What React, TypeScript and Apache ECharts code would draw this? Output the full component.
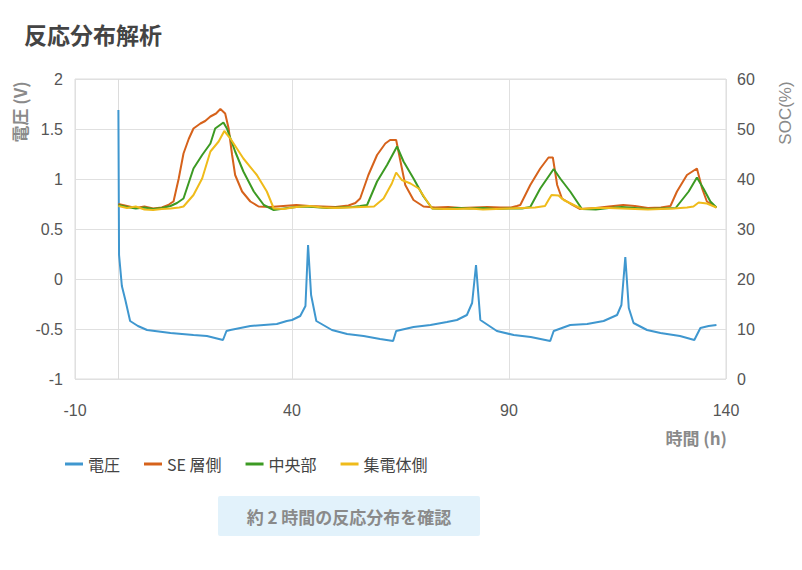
import React, { useEffect, useRef } from "react";
import * as echarts from "echarts";

const FONT = "'Liberation Sans', Arial, 'Noto Sans CJK JP', sans-serif";
const JFONT = "'Noto Sans CJK JP', 'Liberation Sans', sans-serif";

const seriesNames = ["電圧", "SE 層側", "中央部", "集電体側"];
const seriesColors = ["#3f97cf", "#d6621b", "#3c9a23", "#efbb1a"];

const xTicks = [-10, 40, 90, 140];

const voltT = [0, 0.15, 0.8, 1.6, 2.7, 4.5, 6.6, 12, 17.3, 20.4, 24.1, 24.9, 25.8, 30.4, 36.5, 38.8, 40, 41.9, 43.1, 43.7, 44.4, 45.6, 49.2, 52.7, 56.5, 60.3, 63.3, 64, 68, 71.9, 75.7, 78, 80.3, 81.5, 82.4, 83.4, 87.2, 91.1, 95, 99.5, 100.3, 104.1, 108, 111.8, 114.9, 115.9, 116.8, 117.6, 118.7, 121.8, 124.9, 129.4, 132.7, 134.1, 136, 137.8];
const voltV = [1.69, 0.24, -0.07, -0.21, -0.42, -0.47, -0.51, -0.54, -0.56, -0.57, -0.61, -0.52, -0.51, -0.47, -0.45, -0.42, -0.41, -0.37, -0.27, 0.34, -0.16, -0.42, -0.51, -0.55, -0.57, -0.6, -0.62, -0.52, -0.48, -0.46, -0.43, -0.41, -0.36, -0.24, 0.14, -0.41, -0.52, -0.56, -0.58, -0.62, -0.52, -0.46, -0.45, -0.42, -0.36, -0.26, 0.22, -0.29, -0.44, -0.51, -0.54, -0.57, -0.61, -0.49, -0.47, -0.46];

const seT = [0, 2, 4, 6, 8, 10, 11.5, 12.3, 12.7, 13.9, 15, 16.2, 17.3, 18.9, 20, 21.2, 22.5, 23.5, 24.6, 25.4, 26.2, 26.9, 28.5, 30.4, 32.3, 35, 38, 41, 44, 47, 50, 53, 54.6, 55.7, 57.6, 59.6, 61.5, 62.6, 64, 65, 66.1, 68, 70.3, 73, 76, 79, 82, 85, 88, 90.5, 91.8, 92.6, 94.9, 97.2, 99.1, 100.1, 101.1, 102.2, 104.1, 106.4, 110, 113, 116.3, 119, 122, 125, 127.2, 128.7, 131, 133.3, 134.5, 135.6, 137.8];
const seSoc = [35, 34.6, 34.2, 34.5, 34.1, 34.3, 34.8, 35.3, 35.5, 40.1, 45.1, 48, 50.1, 51.1, 51.6, 52.5, 53.1, 54, 53.1, 50.1, 44.8, 40.8, 37.5, 35.5, 34.5, 34.4, 34.6, 34.8, 34.6, 34.5, 34.4, 34.7, 35.2, 36.1, 40.8, 44.8, 47.1, 47.8, 47.8, 43.5, 38.8, 35.8, 34.5, 34.3, 34.4, 34.2, 34.3, 34.4, 34.3, 34.3, 34.6, 34.8, 38.8, 42.1, 44.3, 44.3, 38.8, 36.1, 35.1, 34, 34.2, 34.5, 34.8, 34.6, 34.2, 34.3, 34.6, 37.5, 40.8, 42.1, 38.1, 35.5, 34.3];

const midT = [0, 2, 4, 6, 8, 10, 12, 13.5, 15, 17.3, 19.3, 21.2, 22.3, 24.2, 25, 26.9, 28.8, 31.2, 33.5, 35.8, 39, 42, 45, 48, 51, 54, 55.7, 57.3, 59.6, 61.9, 64.2, 65.7, 68, 70.3, 72.3, 75, 78, 81, 84, 87, 90, 93, 94.9, 97.2, 100.3, 101.8, 104.1, 106.8, 110, 113, 116, 119, 122, 125, 128.4, 131.4, 133.3, 134.8, 136.4, 137.8];
const midSoc = [34.8, 34.4, 34.1, 34.3, 34, 34.2, 34.6, 35.2, 36.1, 42.1, 44.8, 47.1, 50.1, 51.3, 50.1, 45.5, 41.5, 37.5, 34.8, 33.8, 34.2, 34.5, 34.4, 34.2, 34.3, 34.4, 34.6, 34.8, 39.5, 42.8, 46.5, 43.5, 40.1, 36.5, 34.1, 34, 34.2, 34.1, 34.2, 34, 34.1, 34.1, 34.4, 38.1, 42, 40.1, 37.5, 34, 33.9, 34.2, 34.4, 34.2, 34, 34.1, 34.2, 37.5, 40.3, 38.1, 35.5, 34.3];

const ccT = [0, 2, 4, 6, 8, 10, 12, 14, 15, 17.3, 19.3, 21.2, 23.1, 24.4, 25.8, 28.8, 31.9, 34.2, 35.8, 38, 41, 44, 47, 50, 53, 56, 58.9, 61.1, 63, 64, 65.3, 67.3, 69.2, 70.7, 72.3, 75, 78, 81, 84, 87, 90, 93, 96, 98.3, 99.1, 99.8, 101.4, 102.6, 104.9, 106.8, 110, 113, 116, 119, 122, 125, 128, 131, 132.5, 133.7, 135.6, 137.8];
const ccSoc = [34.6, 34.2, 34.5, 33.9, 33.8, 34, 34.1, 34.3, 34.5, 36.8, 40.1, 45.5, 47.5, 49.6, 48.1, 44.1, 40.8, 37.5, 34.1, 34, 34.4, 34.6, 34.3, 34.2, 34.3, 34.4, 34.5, 36.1, 39.1, 41.3, 39.8, 39.1, 38.1, 36.1, 34.1, 34, 34, 34.1, 33.9, 34, 34.1, 34.2, 34.3, 34.6, 35.8, 36.8, 36.7, 35.8, 34.8, 34, 34.2, 34.2, 34.1, 34, 33.9, 34, 34.1, 34.3, 34.5, 35.3, 35.1, 34.3];

const zip = (a: number[], b: number[]) => a.map((v, i) => [v, b[i]]);

export default function App() {
  const ref = useRef<HTMLDivElement>(null);
  useEffect(() => {
    document.body.style.margin = "0";
    const chart = echarts.init(ref.current!, null, { renderer: "svg" });
    const lineSeries = (i: number, data: number[][], yAxisIndex: number, extra: any = {}) => ({
      name: seriesNames[i],
      type: "line",
      yAxisIndex,
      data,
      showSymbol: false,
      symbol: "none",
      lineStyle: { color: seriesColors[i], width: 2 },
      itemStyle: { color: seriesColors[i] },
      z: 3,
      ...extra,
    });
    chart.setOption({
      animation: false,
      backgroundColor: "#ffffff",
      grid: {
        left: 75,
        right: 76,
        top: 79,
        bottom: 191,
        show: true,
        borderColor: "#dcdcdc",
        borderWidth: 1,
      },
      legend: {
        data: seriesNames,
        left: 60,
        top: 451,
        icon: "rect",
        itemWidth: 18,
        itemHeight: 3,
        itemGap: 24,
        textStyle: { color: "#444", fontSize: 16, fontFamily: JFONT },
      },
      xAxis: {
        type: "value",
        min: xTicks[0],
        max: xTicks[xTicks.length - 1],
        interval: 50,
        axisLine: { show: false },
        axisTick: { show: false },
        splitLine: { show: true, lineStyle: { color: "#e0e0e0", width: 1 } },
        axisLabel: { color: "#555", fontSize: 16, fontFamily: FONT, margin: 23 },
      },
      yAxis: [
        {
          type: "value",
          min: -1,
          max: 2,
          interval: 0.5,
          axisLine: { show: false },
          axisTick: { show: false },
          splitLine: { show: true, lineStyle: { color: "#e0e0e0", width: 1 } },
          axisLabel: { color: "#555", fontSize: 16, fontFamily: FONT, margin: 12 },
        },
        {
          type: "value",
          min: 0,
          max: 60,
          interval: 10,
          position: "right",
          axisLine: { show: false },
          axisTick: { show: false },
          splitLine: { show: false },
          axisLabel: { color: "#555", fontSize: 16, fontFamily: FONT, margin: 11 },
        },
      ],
      series: [
        lineSeries(0, zip(voltT, voltV), 0, {
          markLine: {
            silent: true,
            symbol: "none",
            label: { show: false },
            lineStyle: { color: "#dcdcdc", width: 1, type: "solid" },
            data: [{ xAxis: 0 }],
            z: 1,
          },
        }),
        lineSeries(1, zip(seT, seSoc), 1),
        lineSeries(2, zip(midT, midSoc), 1),
        lineSeries(3, zip(ccT, ccSoc), 1),
      ],
      graphic: [
        {
          type: "text",
          left: 24,
          top: 22,
          style: { text: "反応分布解析", fill: "#444", fontSize: 23, fontWeight: "bold", fontFamily: JFONT },
        },
        {
          type: "text",
          x: 19,
          y: 112,
          rotation: Math.PI / 2,
          style: { text: "電圧 (V)", fill: "#8a8a8a", fontSize: 17, fontWeight: "bold", fontFamily: JFONT, align: "center", verticalAlign: "middle" },
        },
        {
          type: "text",
          x: 785,
          y: 113,
          rotation: Math.PI / 2,
          style: { text: "SOC(%)", fill: "#8a8a8a", fontSize: 17, fontFamily: FONT, align: "center", verticalAlign: "middle" },
        },
        {
          type: "text",
          x: 727,
          y: 437,
          style: { text: "時間 (h)", fill: "#8a8a8a", fontSize: 17, fontWeight: "bold", fontFamily: JFONT, align: "right", verticalAlign: "middle" },
        },
        {
          type: "rect",
          shape: { x: 218, y: 496, width: 262, height: 40, r: 2 },
          style: { fill: "#e2f2fb" },
        },
        {
          type: "text",
          x: 349,
          y: 516,
          style: { text: "約 2 時間の反応分布を確認", fill: "#8a8a8a", fontSize: 17, fontWeight: "bold", fontFamily: JFONT, align: "center", verticalAlign: "middle" },
        },
      ],
    });
    return () => chart.dispose();
  }, []);
  return <div ref={ref} style={{ width: 802, height: 570 }} />;
}
